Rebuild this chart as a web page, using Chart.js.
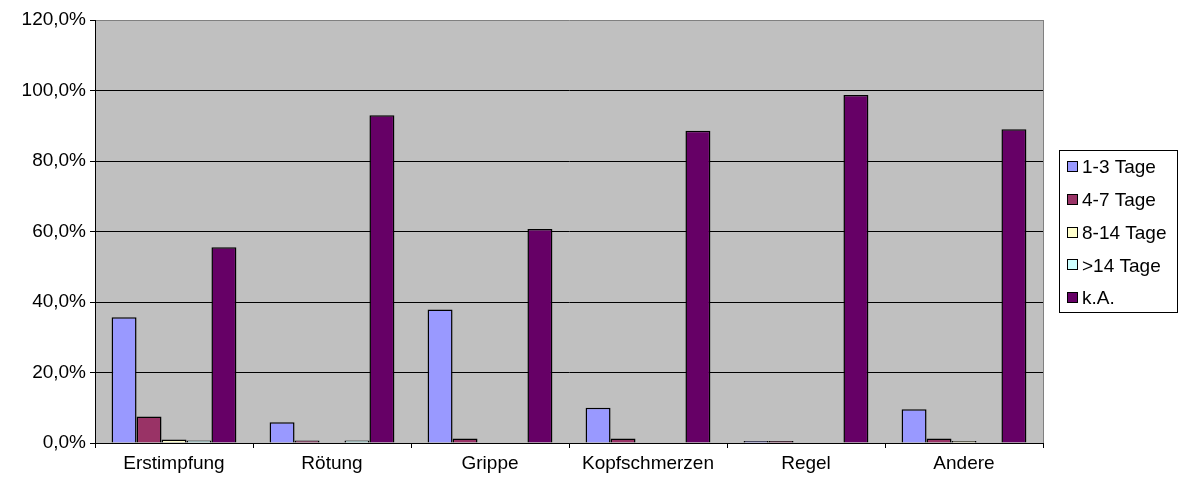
<!DOCTYPE html>
<html lang="de">
<head>
<meta charset="utf-8">
<title>Dauer der Beschwerden</title>
<script src="https://cdn.jsdelivr.net/npm/chart.js@4.4.1/dist/chart.umd.min.js"></script>
<style>
    html, body { margin: 0; padding: 0; background: #fff; }
    #wrap { width: 1180px; height: 482px; position: relative; }
</style>
</head>
<body>
<div id="wrap"><canvas id="chart"></canvas></div>
<script>
// Kategorien (Beschwerden)
const kategorien = ['Erstimpfung', 'Rötung', 'Grippe', 'Kopfschmerzen', 'Regel', 'Andere'];

// Anteile in Prozent je Dauer
const tage1bis3 = [35.7, 5.9, 37.9, 10.0, 0.6, 9.6];
const tage4bis7 = [7.5, 0.7, 1.3, 1.3, 0.6, 1.3];
const tage8bis14 = [1.0, 0, 0, 0, 0, 0.6];
const tageUeber14 = [0.7, 0.7, 0, 0, 0, 0];
const keineAngabe = [55.5, 93.0, 60.7, 88.6, 98.7, 89.0];

const serienNamen = ['1-3 Tage', '4-7 Tage', '8-14 Tage', '>14 Tage', 'k.A.'];
const serienFarben = ['#9999FF', '#993366', '#FFFFCC', '#CCFFFF', '#660066'];

const schrift = '"Liberation Sans", Arial, sans-serif';

// Grauer Hintergrund der Zeichenfläche und Rand rechts
const hintergrund = {
    id: 'hintergrund',
    beforeDraw(chart) {
        const a = chart.chartArea;
        const ctx = chart.ctx;
        ctx.save();
        ctx.fillStyle = '#C0C0C0';
        ctx.fillRect(a.left, a.top, a.right - a.left, a.bottom - a.top);
        ctx.restore();
    },
    afterDraw(chart) {
        const a = chart.chartArea;
        const ctx = chart.ctx;
        ctx.save();
        ctx.strokeStyle = '#808080';
        ctx.lineWidth = 1;
        ctx.beginPath();
        ctx.moveTo(a.right + 0.5, a.top);
        ctx.lineTo(a.right + 0.5, a.bottom);
        ctx.stroke();
        ctx.restore();
    }
};

// Legende mit Rahmen rechts neben dem Diagramm
const legendeRahmen = {
    id: 'legendeRahmen',
    afterDraw(chart) {
        const ctx = chart.ctx;
        const x = 1059.5, y = 150.5, w = 118, h = 162;
        ctx.save();
        ctx.fillStyle = '#fff';
        ctx.fillRect(x, y, w, h);
        ctx.strokeStyle = '#000';
        ctx.lineWidth = 1;
        ctx.strokeRect(x, y, w, h);
        ctx.font = '19px ' + schrift;
        ctx.textBaseline = 'middle';
        chart.data.datasets.forEach((ds, i) => {
            const cy = 167 + i * 32.8;
            ctx.fillStyle = ds.backgroundColor;
            ctx.fillRect(1067.5, Math.round(cy) - 5.5, 10, 10);
            ctx.strokeStyle = '#000';
            ctx.strokeRect(1067.5, Math.round(cy) - 5.5, 10, 10);
            ctx.fillStyle = '#000';
            ctx.fillText(ds.label, 1082, cy + 1);
        });
        ctx.restore();
    }
};

const werte = [tage1bis3, tage4bis7, tage8bis14, tageUeber14, keineAngabe];

new Chart(document.getElementById('chart'), {
    type: 'bar',
    data: {
        labels: kategorien,
        datasets: werte.map((d, i) => ({
            label: serienNamen[i],
            data: d,
            backgroundColor: serienFarben[i],
            borderColor: '#000',
            borderWidth: 1.5,
            categoryPercentage: 0.79,
            barPercentage: 1.0
        }))
    },
    options: {
        responsive: true,
        maintainAspectRatio: false,
        animation: false,
        layout: { padding: { top: 20, right: 137, left: 0, bottom: 0 } },
        plugins: {
            legend: { display: false },
            tooltip: { enabled: false }
        },
        scales: {
            x: {
                afterFit(scale) { scale.height = 39; },
                grid: {
                    drawOnChartArea: false,
                    color: '#000',
                    tickLength: 5,
                    offset: true
                },
                border: { color: '#000', width: 1 },
                ticks: {
                    color: '#000',
                    padding: 4,
                    font: { family: schrift, size: 19 }
                }
            },
            y: {
                min: 0,
                max: 120,
                afterFit(scale) { scale.width = 95; },
                grid: {
                    color: ctx => (ctx.tick && ctx.tick.value === 120 ? '#808080' : '#000'),
                    tickColor: '#000',
                    tickLength: 5
                },
                border: { color: '#000', width: 1 },
                ticks: {
                    stepSize: 20,
                    color: '#000',
                    padding: 4,
                    font: { family: schrift, size: 19 },
                    callback: v => v.toFixed(1).replace('.', ',') + '%'
                }
            }
        }
    },
    plugins: [hintergrund, legendeRahmen]
});
</script>
</body>
</html>
